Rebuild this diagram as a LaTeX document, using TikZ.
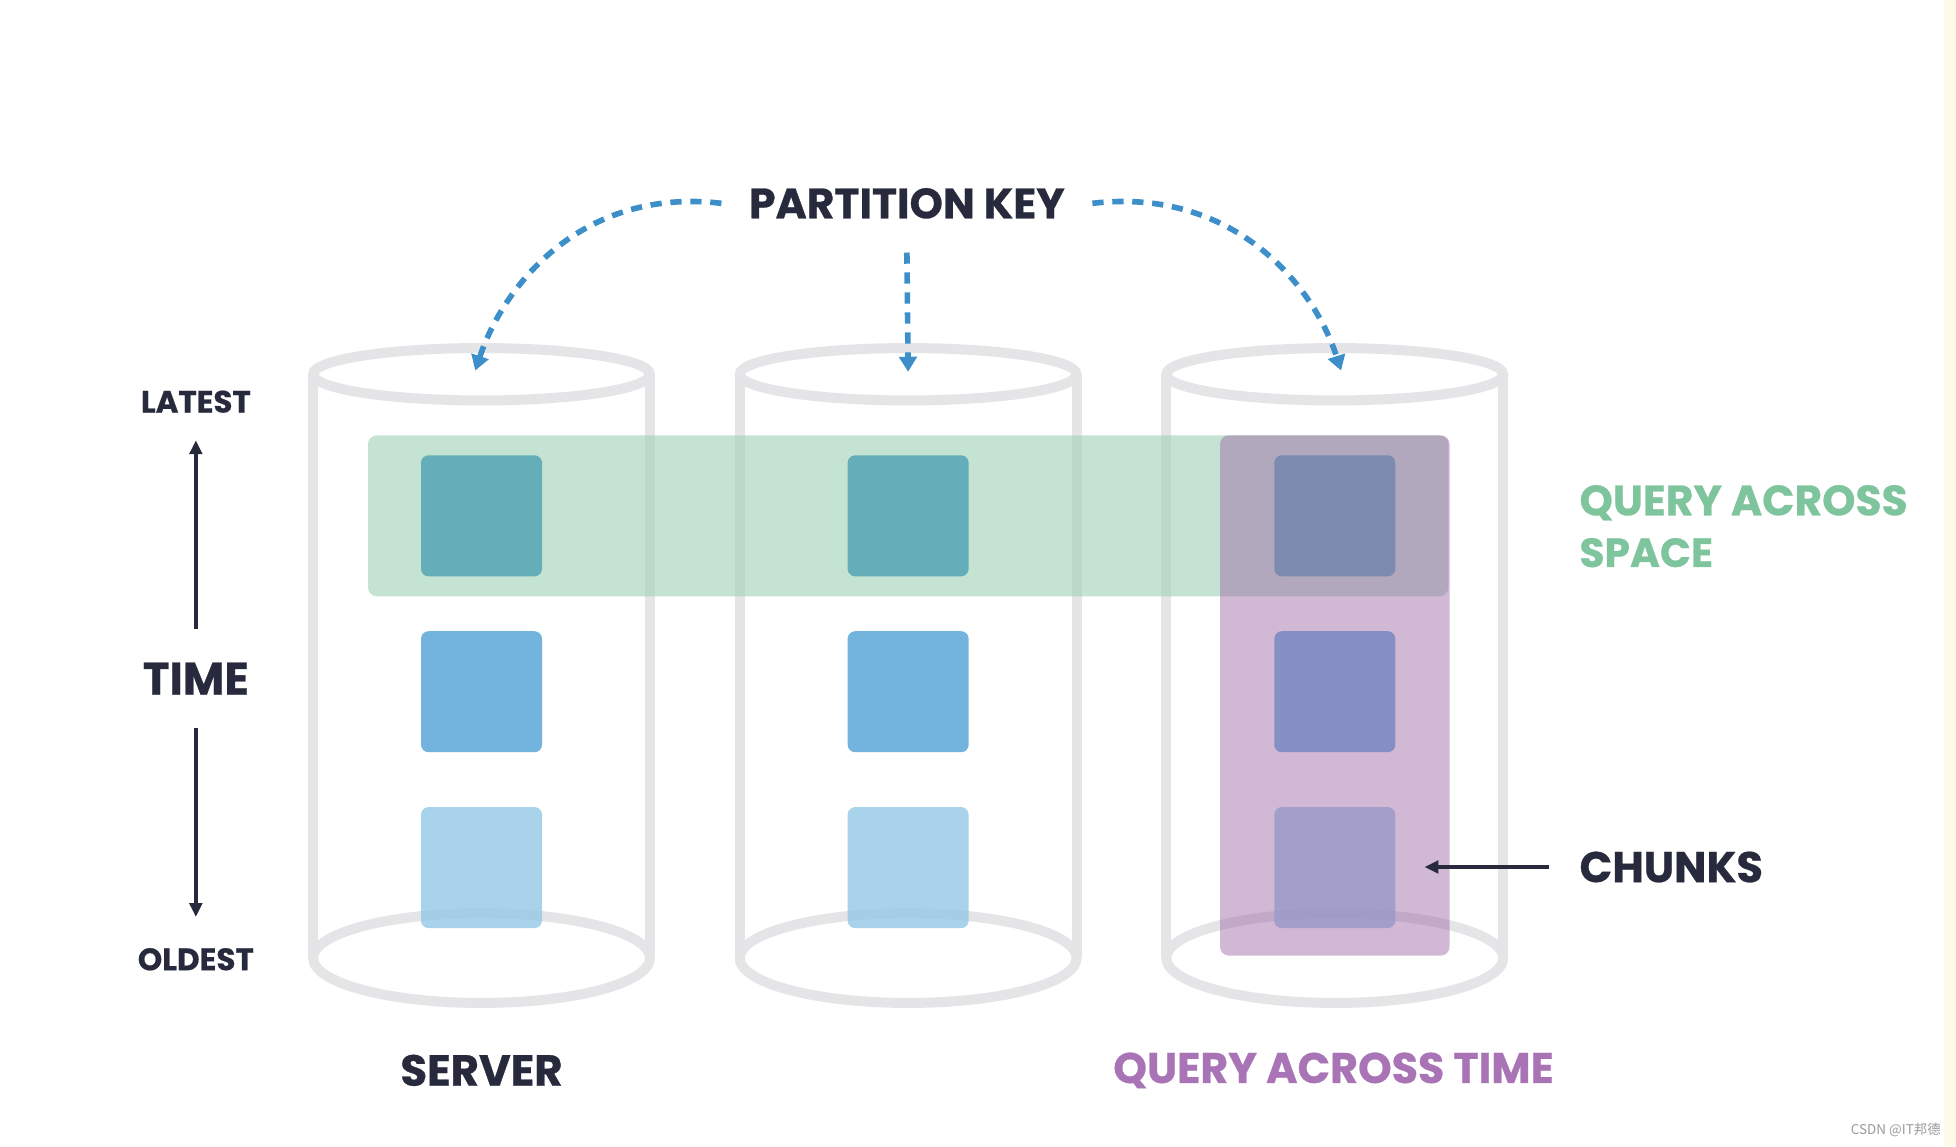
\documentclass[tikz,border=0pt]{standalone}
\usepackage{fontspec}
\setmainfont{Poppins}[BoldFeatures={FakeBold=0.6}]
\newfontfamily\cjkfont{Noto Sans CJK SC}
\usepackage{graphicx}
\usetikzlibrary{arrows.meta}
\definecolor{cylgray}{HTML}{E5E5E7}
\definecolor{greenband}{HTML}{9FD1B5}
\definecolor{purpband}{HTML}{9B62A4}
\definecolor{chtop}{HTML}{64AEB9}
\definecolor{chmid}{HTML}{73B4DF}
\definecolor{chbot}{HTML}{94C9E6}
\definecolor{pkblue}{HTML}{3D8FCA}
\definecolor{darktext}{HTML}{262A3C}
\definecolor{greentext}{HTML}{7EC49D}
\definecolor{purptext}{HTML}{A874B6}
\definecolor{cream}{HTML}{FFF9E8}
\definecolor{wmgray}{HTML}{9A9A9A}
\newcommand{\fitto}[2]{\resizebox{#1pt}{!}{#2}}
\begin{document}
\begin{tikzpicture}[x=1pt,y=-1pt,
  cyl/.style={draw=cylgray,line width=8pt},
  chunk/.style={rounded corners=6pt,minimum width=97pt,minimum height=97pt,inner sep=0pt},
  lbl/.style={text=darktext,font=\bfseries,inner sep=0pt},
  pkarrow/.style={draw=pkblue,line width=4.5pt,dash pattern=on 9pt off 7pt,-{Triangle[width=14pt,length=12pt]}},
  timearrow/.style={draw=darktext,line width=3pt,-{Triangle[width=10pt,length=11pt]}}]
\useasboundingbox (0,0) rectangle (1568,919);
\fill[white] (0,0) rectangle (1568,919);
\fill[cream] (1558,0) rectangle (1568,919);
% cylinders
\foreach \cx in {386,728,1070}{
  \draw[cyl] (\cx-135,300) -- (\cx-135,768);
  \draw[cyl] (\cx+135,300) -- (\cx+135,768);
  \draw[cyl] (\cx,300) ellipse [x radius=135pt, y radius=21pt];
  \draw[cyl] (\cx,768) ellipse [x radius=135pt, y radius=36pt];
}
\coordinate (c1top) at (381,297);
\coordinate (c2top) at (728,298);
\coordinate (c3top) at (1075,297);
% query across space band
\fill[greenband, fill opacity=0.6, rounded corners=7pt] (295,349) rectangle (1161,478);
% chunks
\foreach \cx/\n in {386/1,728/2,1070/3}{
  \node[chunk, fill=chtop] (s\n a) at (\cx,413.5) {};
  \node[chunk, fill=chmid] (s\n b) at (\cx,554.5) {};
  \node[chunk, fill=chbot, fill opacity=0.8] (s\n c) at (\cx,695.5) {};
}
% query across time band
\fill[purpband, fill opacity=0.45, rounded corners=7pt] (978,349) rectangle (1162,766);
% labels
\node[lbl] (pk) at (727,163) {\fitto{253}{PARTITION KEY}};
\node[lbl] (latest) at (157,322) {\fitto{88}{LATEST}};
\node[lbl] (time) at (157,544) {\fitto{85}{TIME}};
\node[lbl] (oldest) at (157,769) {\fitto{93}{OLDEST}};
\node[lbl] (server) at (386,858) {\fitto{130}{SERVER}};
\node[lbl, text=purptext] (qat) at (1069,858) {\fitto{353}{QUERY ACROSS TIME}};
\node[lbl, text=greentext, anchor=west] (qas1) at (1266,403) {\fitto{263}{QUERY ACROSS}};
\node[lbl, text=greentext, anchor=west] (qas2) at (1266,443) {\fitto{107}{SPACE}};
\node[lbl, anchor=west] (chunks) at (1266,695) {\fitto{147}{CHUNKS}};
\node[anchor=east, text=wmgray, font=\cjkfont, inner sep=0pt] (wm) at (1556,906) {\fitto{72}{CSDN @IT邦德}};
% partition key arrows
\draw[pkarrow] ([xshift=-22pt]pk.west) .. controls (470,150) and (405,225) .. (c1top);
\draw[pkarrow] ([yshift=-27pt]pk.south) -- (c2top);
\draw[pkarrow] ([xshift=22pt]pk.east) .. controls (985,150) and (1052,225) .. (c3top);
% time arrows
\coordinate (tup) at (157,353);
\coordinate (tdown) at (157,735);
\draw[timearrow] ([yshift=27pt]time.north) -- (tup);
\draw[timearrow] ([yshift=-27pt]time.south) -- (tdown);
% chunks arrow
\coordinate (chtip) at (1142,695);
\draw[timearrow] ([xshift=-24pt]chunks.west) -- (chtip);
\end{tikzpicture}
\end{document}
